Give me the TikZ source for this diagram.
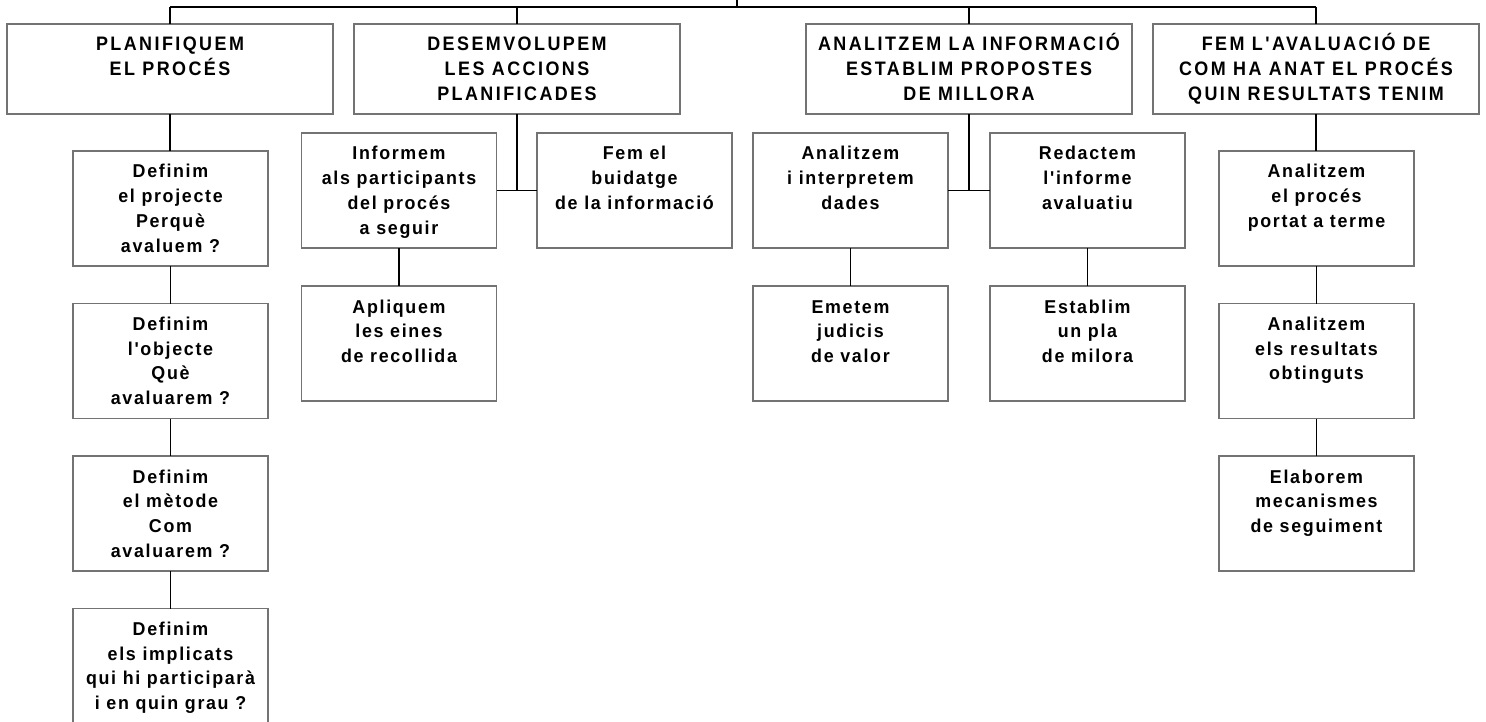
\documentclass[tikz,border=0pt]{standalone}
\usepackage{fontspec}
\newfontfamily\topfont{Liberation Sans}[FakeStretch=0.92,LetterSpace=12.5]
\newfontfamily\subfont{Liberation Sans}[FakeStretch=0.96,LetterSpace=9]
\newcommand{\topbox}[1]{\parbox[c][90pt][t]{326pt}{\centering\topfont\bfseries\fontsize{19.5pt}{25pt}\selectfont\rule{0pt}{27pt}#1}}
\newcommand{\subbox}[1]{\parbox[c][115pt][t]{195pt}{\centering\subfont\bfseries\fontsize{18.6pt}{24.7pt}\selectfont\rule{0pt}{27pt}#1}}
\tikzset{
  boxnode/.style={draw=black!55, line width=1.5pt, inner sep=0pt, outer sep=0pt, fill=white},
  link/.style={draw=black, line width=1.4pt}
}
\begin{document}
\begin{tikzpicture}[x=1pt,y=-1pt]
\useasboundingbox (0,0) rectangle (1486,722);
% level 1
\node[boxnode] (p1) at (170,69) {\topbox{PLANIFIQUEM\\EL PROCÉS}};
\node[boxnode] (p2) at (517,69) {\topbox{DESEMVOLUPEM\\LES ACCIONS\\PLANIFICADES}};
\node[boxnode] (p3) at (969,69) {\topbox{ANALITZEM LA INFORMACIÓ\\ESTABLIM PROPOSTES\\DE MILLORA}};
\node[boxnode] (p4) at (1316,69) {\topbox{FEM L'AVALUACIÓ DE\\COM HA ANAT EL PROCÉS\\QUIN RESULTATS TENIM}};
% column 1
\node[boxnode] (a1) at (170.5,208.5) {\subbox{Definim\\el projecte\\Perquè\\avaluem ?}};
\node[boxnode] (a2) at (170.5,361) {\subbox{Definim\\l'objecte\\Què\\avaluarem ?}};
\node[boxnode] (a3) at (170.5,513.5) {\subbox{Definim\\el mètode\\Com\\avaluarem ?}};
\node[boxnode] (a4) at (170.5,666) {\subbox{Definim\\els implicats\\qui hi participarà\\i en quin grau ?}};
% column 2
\node[boxnode] (b1) at (399,190.5) {\subbox{Informem\\als participants\\del procés\\a seguir}};
\node[boxnode] (b2) at (634.5,190.5) {\subbox{Fem el\\buidatge\\de la informació}};
\node[boxnode] (b3) at (399,343.5) {\subbox{Apliquem\\les eines\\de recollida}};
% column 3
\node[boxnode] (c1) at (850.5,190.5) {\subbox{Analitzem\\i interpretem\\dades}};
\node[boxnode] (c2) at (1087.5,190.5) {\subbox{Redactem\\l'informe\\avaluatiu}};
\node[boxnode] (c3) at (850.5,343.5) {\subbox{Emetem\\judicis\\de valor}};
\node[boxnode] (c4) at (1087.5,343.5) {\subbox{Establim\\un pla\\de milora}};
% column 4
\node[boxnode] (d1) at (1316.5,208.5) {\subbox{Analitzem\\el procés\\portat a terme}};
\node[boxnode] (d2) at (1316.5,361) {\subbox{Analitzem\\els resultats\\obtinguts}};
\node[boxnode] (d3) at (1316.5,513.5) {\subbox{Elaborem\\mecanismes\\de seguiment}};
% top bus
\coordinate (root) at (737,-2);
\coordinate (bus) at (737,7);
\coordinate (t1) at (170,7);
\coordinate (t4) at (1316,7);
\draw[link] (root) -- (bus);
\draw[link] (t1) -- (t4);
\draw[link] (t1) -- (p1.north);
\draw[link] (p2.north |- bus) -- (p2.north);
\draw[link] (p3.north |- bus) -- (p3.north);
\draw[link] (t4) -- (p4.north);
% column links
\draw[link] (p1.south) -- (p1.south |- a1.north);
\draw[link] (a1.south) -- (a2.north);
\draw[link] (a2.south) -- (a3.north);
\draw[link] (a3.south) -- (a4.north);
\draw[link] (p2.south) -- (p2.south |- b1.east);
\draw[link] (b1.east) -- (b2.west);
\draw[link] (b1.south) -- (b3.north);
\draw[link] (p3.south) -- (p3.south |- c1.east);
\draw[link] (c1.east) -- (c2.west);
\draw[link] (c1.south) -- (c3.north);
\draw[link] (c2.south) -- (c4.north);
\draw[link] (p4.south) -- (p4.south |- d1.north);
\draw[link] (d1.south) -- (d2.north);
\draw[link] (d2.south) -- (d3.north);
\end{tikzpicture}
\end{document}
